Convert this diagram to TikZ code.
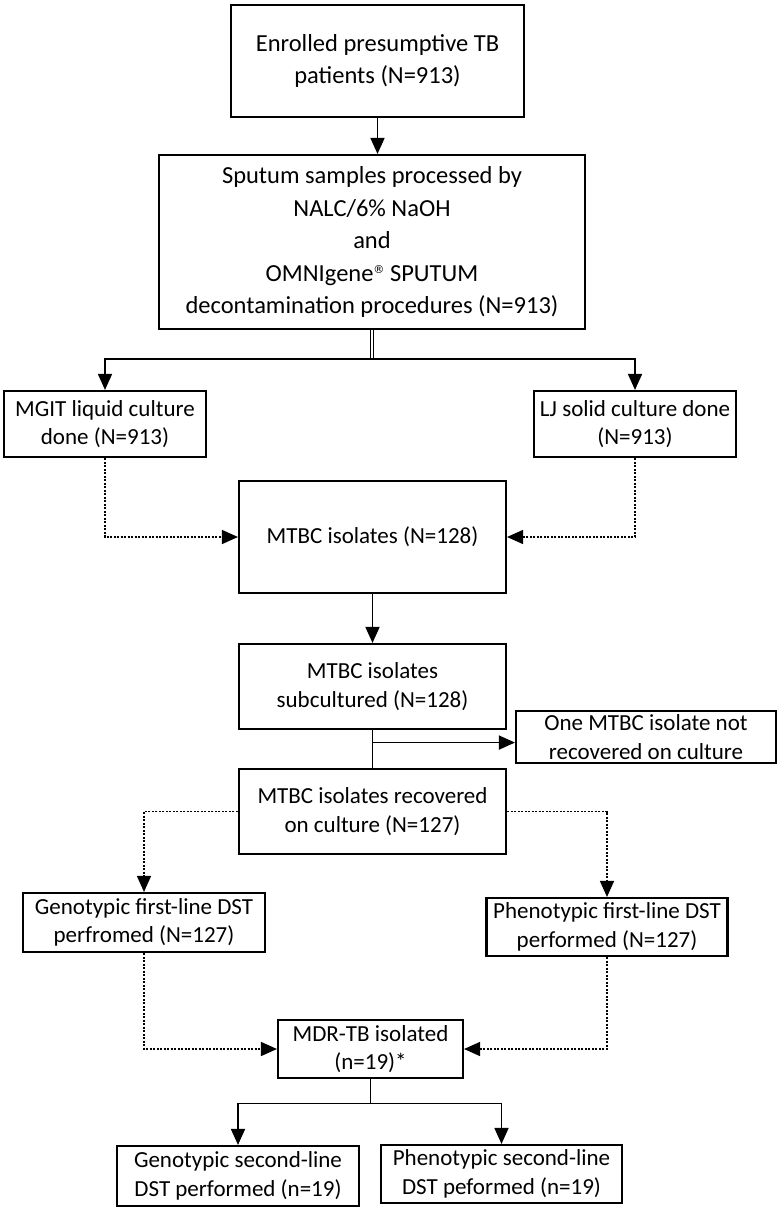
\documentclass[tikz,border=0pt]{standalone}
\usepackage{fontspec}
\setmainfont{Carlito}
\newfontfamily\symfont{DejaVu Sans}
\usetikzlibrary{arrows.meta,calc,positioning}

\newcommand{\regmark}{\raisebox{7.5pt}{\symfont\fontsize{11}{11}\selectfont ®}}

\begin{document}
\begin{tikzpicture}[x=1pt, y=-1pt, >={Triangle[length=16pt,width=14pt]},
    box/.style={draw, line width=2.1pt, inner sep=0pt, align=center, font=\fontsize{23}{28.5}\selectfont},
    bigbox/.style={box, font=\fontsize{24.5}{32.5}\selectfont},
    arr/.style={->, line width=1.6pt},
    dotarr/.style={->, line width=1.5pt, dash pattern=on 2pt off 1.5pt}]

    \useasboundingbox (0,0) rectangle (780,1210);

    \node[bigbox, minimum width=293pt, minimum height=112pt] (enrol) at (377.5,61) {Enrolled presumptive TB\\patients (N=913)};
    \node[bigbox, minimum width=426pt, minimum height=174pt] (sputum) at (372,242) {Sputum samples processed by\\NALC/6\% NaOH\\and\\OMNIgene\regmark\ SPUTUM\\decontamination procedures (N=913)};

    \node[box, minimum width=202pt, minimum height=66pt] (mgit) at (105,424) {MGIT liquid culture\\done (N=913)};
    \node[box, minimum width=202pt, minimum height=66pt] (lj) at (635,424) {LJ solid culture done\\(N=913)};
    \node[box, minimum width=267pt, minimum height=112pt] (mtbc) at (372.5,537) {MTBC isolates (N=128)};
    \node[box, minimum width=267pt, minimum height=85pt] (subcult) at (372.5,686.5) {MTBC isolates\\subcultured (N=128)};
    \node[box, minimum width=260pt, minimum height=52pt] (lost) at (646,737) {One MTBC isolate not\\recovered on culture};
    \node[box, minimum width=267pt, minimum height=85pt] (recov) at (372.5,811.5) {MTBC isolates recovered\\on culture (N=127)};

    \node[box, minimum width=242pt, minimum height=59pt] (geno1) at (144,922.5) {Genotypic first-line DST\\perfromed (N=127)};
    \node[box, minimum width=241pt, minimum height=58pt] (pheno1) at (607,927) {Phenotypic first-line DST\\performed (N=127)};
    \node[box, minimum width=185pt, minimum height=58pt] (mdr) at (370.5,1049) {MDR-TB isolated\\(n=19)*};
    \node[box, minimum width=242pt, minimum height=60pt] (geno2) at (238,1176) {Genotypic second-line\\DST performed (n=19)};
    \node[box, minimum width=241pt, minimum height=58pt] (pheno2) at (501.5,1174) {Phenotypic second-line\\DST peformed (n=19)};

    \draw[arr] (enrol.south) -- (enrol.south |- sputum.north);

    \coordinate (split) at ($(sputum.south)+(0,28.7)$);
    \draw[double, double distance=1.6pt, line width=1pt] (sputum.south) -- (split);
    \draw[arr] (split) -| (mgit.north);
    \draw[arr] (split) -| (lj.north);

    \draw[dotarr] (mgit.south) |- (mtbc.west);
    \draw[dotarr] (lj.south) |- (mtbc.east);
    \draw[arr] (mtbc.south) -- (subcult.north);

    \draw[line width=1.6pt] (subcult.south) -- (recov.north);
    \coordinate (branch) at ($(subcult.south)!0.33!(recov.north)$);
    \draw[arr] (branch) -- (branch -| lost.west);

    \draw[dotarr] (recov.west) -| (geno1.north);
    \draw[dotarr] (recov.east) -| (pheno1.north);
    \draw[dotarr] (geno1.south) |- (mdr.west);
    \draw[dotarr] (pheno1.south) |- (mdr.east);

    \coordinate (fork) at ($(mdr.south)+(0,24.5)$);
    \draw[line width=1.6pt] (mdr.south) -- (fork);
    \draw[arr] (fork) -| (geno2.north);
    \draw[arr] (fork) -| (pheno2.north);

\end{tikzpicture}
\end{document}
